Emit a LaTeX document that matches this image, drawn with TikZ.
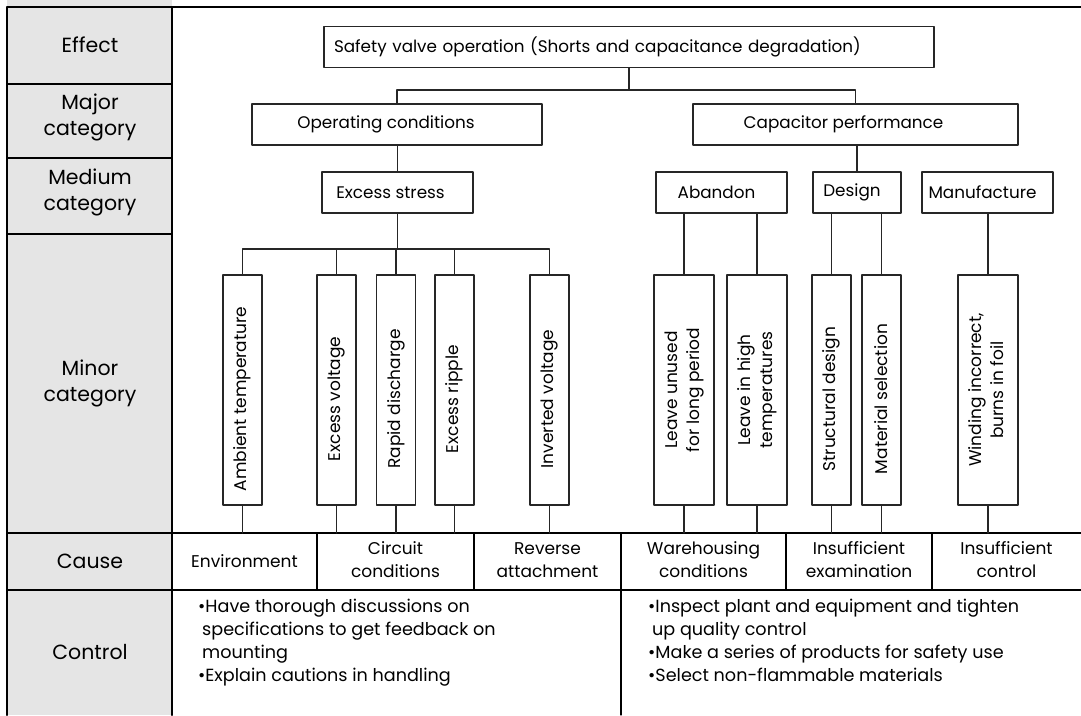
\documentclass[tikz,border=0pt]{standalone}
\usepackage{fontspec}
\setmainfont{Poppins}
\usepackage{graphicx}
\begin{document}
\begin{tikzpicture}[x = 1pt, y = -1pt, line join = round, line cap = round,
	hbox/.style = {draw = black!85, line width = 1.1pt, inner sep = 0pt, minimum height = 41pt, font = \fontsize{16.8}{22}\selectfont},
	vbox/.style = {draw = black!85, line width = 1.1pt, inner sep = 0pt, minimum height = 230pt, font = \fontsize{17}{22}\selectfont},
	head/.style = {align = center, font = \fontsize{20.5}{26}\selectfont},
	cell/.style = {align = center, font = \fontsize{17}{23}\selectfont},
	link/.style = {draw = black!85, line width = 1.1pt}]
	\useasboundingbox (0,0) rectangle (1081,715);
	%Vẽ cột tiêu đề
	\fill[gray!20] (7,0) rectangle (172,715);
	\draw[line width = 2.2pt] (7,715)--(7,7)--(1081,7);
	\draw[line width = 2.2pt] (172,7)--(172,715);
	\foreach \y in {84,158,234} \draw[line width = 1.1pt] (7,\y)--(172,\y);
	\foreach \y in {533,590} \draw[line width = 1.1pt] (7,\y)--(1081,\y);
	\foreach \x in {317,474,621,786,932} \draw[line width = 1.1pt] (\x,533)--(\x,590);
	\draw[line width = 1.1pt] (621,590)--(621,715);
	\node[head] (eff) at (90,45) {Effect};
	\node[head] (maj) at (90,117) {Major\\category};
	\node[head] (med) at (90,192) {Medium\\category};
	\node[head] (mnr) at (90,383) {Minor\\category};
	\node[head] (cau) at (90,561) {Cause};
	\node[head] (ctl) at (90,652) {Control};
	%Vẽ các hộp của cây
	\node[hbox, minimum width = 610pt, text width = 590pt, align = left] (eft) at (629,47) {Safety valve operation (Shorts and capacitance degradation)};
	\node[hbox, minimum width = 290pt] (opc) at (397,124.5) {Operating conditions\hspace*{22pt}};
	\node[hbox, minimum width = 325pt] (cap) at (855.5,124.5) {Capacitor performance\hspace*{24pt}};
	\node[hbox, minimum width = 151pt] (exs) at (397.5,192.5) {Excess stress\hspace*{14pt}};
	\node[hbox, minimum width = 131pt] (abd) at (721.5,192.5) {Abandon\hspace*{10pt}};
	\node[hbox, minimum width = 88pt] (dsg) at (857,192.5) {Design\hspace*{10pt}};
	\node[hbox, minimum width = 131pt] (mnf) at (987.5,192.5) {Manufacture\hspace*{10pt}};
	\foreach \n/\x/\t in {amb/242.5/Ambient temperature, exv/336.5/Excess voltage, rpd/396/Rapid discharge, exr/454.5/Excess ripple, inv/549.5/Inverted voltage, str/831.5/Structural design, mat/881.5/Material selection}
		\node[vbox, minimum width = 39pt] (\n) at (\x,390) {\rotatebox{90}{\t\hspace*{18pt}}};
	\node[vbox, minimum width = 60pt] (lvu) at (684,390) {\rotatebox{90}{\begin{tabular}{@{}c@{}}Leave unused\\for long period\end{tabular}}};
	\node[vbox, minimum width = 60pt] (lvh) at (757,390) {\rotatebox{90}{\begin{tabular}{@{}c@{}}Leave in high\\temperatures\end{tabular}}};
	\node[vbox, minimum width = 60pt] (wnd) at (988,390) {\rotatebox{90}{\begin{tabular}{@{}c@{}}Winding incorrect,\\burns in foil\end{tabular}}};
	%Vẽ các đường nối
	\coordinate (b1) at (629,90);
	\coordinate (b2) at (396,249);
	\coordinate (cl) at (0,533);
	\draw[link] (eft.south)--(b1);
	\draw[link] (opc.north) |- (b1) -| (cap.north);
	\draw[link] (exs.north)--(exs.north |- opc.south);
	\draw[link] (dsg.north)--(dsg.north |- cap.south);
	\draw[link] (exs.south)--(exs.south |- b2);
	\draw[link] (amb.north) |- (b2) -| (inv.north);
	\foreach \n in {exv,rpd,exr} \draw[link] (\n.north)--(\n.north |- b2);
	\foreach \n in {lvu,lvh} \draw[link] (\n.north)--(\n.north |- abd.south);
	\foreach \n in {str,mat} \draw[link] (\n.north)--(\n.north |- dsg.south);
	\draw[link] (wnd.north)--(wnd.north |- mnf.south);
	\foreach \n in {amb,exv,rpd,exr,inv,lvu,lvh,str,mat,wnd} \draw[link] (\n.south)--(\n.south |- cl);
	%Vẽ hàng nguyên nhân
	\node[cell] (env) at (244.5,561) {Environment};
	\node[cell] (cir) at (395.5,560) {Circuit\\conditions};
	\node[cell] (rev) at (547.5,560) {Reverse\\attachment};
	\node[cell] (whs) at (703.5,560) {Warehousing\\conditions};
	\node[cell] (ise) at (859,560) {Insufficient\\examination};
	\node[cell] (isc) at (1006.5,560) {Insufficient\\control};
	%Vẽ hàng biện pháp
	\node[cell, font = \fontsize{17.6}{23}\selectfont, align = left, anchor = north west, inner sep = 0pt] (cta) at (198,598.5) {\textbullet Have thorough discussions on\\\hspace*{4pt}specifications to get feedback on\\\hspace*{4pt}mounting\\\textbullet Explain cautions in handling};
	\node[cell, font = \fontsize{17.6}{23}\selectfont, align = left, anchor = north west, inner sep = 0pt] (ctb) at (648,598.5) {\textbullet Inspect plant and equipment and tighten\\\hspace*{4pt}up quality control\\\textbullet Make a series of products for safety use\\\textbullet Select non-flammable materials};
\end{tikzpicture}
\end{document}
